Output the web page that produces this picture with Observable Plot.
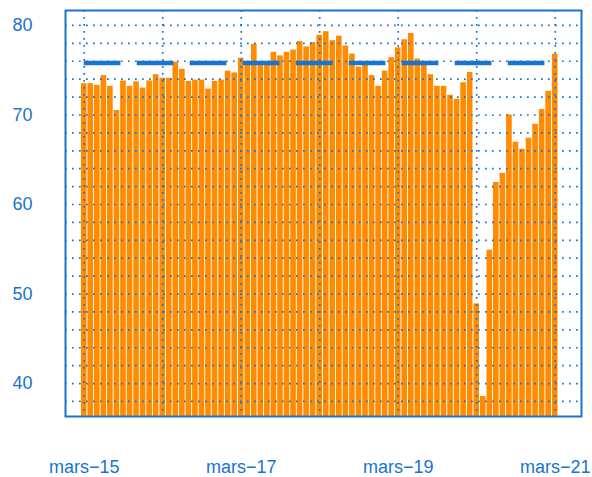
<!DOCTYPE html>
<html>
<head>
<meta charset="utf-8">
<script src="https://cdn.jsdelivr.net/npm/d3@7"></script>
<script src="https://cdn.jsdelivr.net/npm/@observablehq/plot@0.6"></script>
<style>
  html, body { margin: 0; padding: 0; background: #fff; }
  #chart svg { display: block; }
</style>
</head>
<body>
<div id="chart"></div>
<script>
// Monthly values, March 2015 .. March 2021 (index 0 = mars-15)
const values = [
  73.5, 73.5, 73.3, 74.4, 73.2, 70.5, 73.8, 73.2, 73.7, 73.0,   // Mar15..Dec15
  73.8, 74.5, 74.1, 74.1, 75.9, 75.1, 73.75, 73.9, 73.9, 72.9, 73.75, 73.9, // Jan16..Dec16
  74.9, 74.7, 76.35, 75.7, 77.9, 75.7, 75.6, 77.0, 76.6, 77.0, 77.25, 78.2, // Jan17..Dec17
  77.6, 78.1, 78.9, 79.3, 78.3, 78.8, 77.7, 76.8, 75.35, 75.7, 74.4, 73.2, // Jan18..Dec18
  74.9, 76.4, 77.5, 78.4, 79.1, 76.25, 75.6, 74.5, 73.2, 73.2, 72.2, 71.75, // Jan19..Dec19
  73.6, 74.75, 48.9, 38.56, 54.9, 62.46, 63.47, 70.0, 66.96, 66.18, 67.4, 68.96, // Jan20..Dec20
  70.6, 72.64, 76.77 // Jan21..Mar21
];
const refLevel = 75.8;
const yTicks = [40, 50, 60, 70, 80];
const yGrid = d3.range(38, 81, 2);
const xGrid = [0, 12, 24, 36, 48, 60, 72];
const xTickPos = [0, 24, 48, 72];
const xTickLabels = ["mars\u221215", "mars\u221217", "mars\u221219", "mars\u221221"];

const blue = "#1874CD";
const orange = "#FF8C00";
const yMin = 36.32, yMax = 81.67;
const dotted = {stroke: blue, strokeWidth: 1.7, strokeDasharray: "1.7,5.3"};

const chart = Plot.plot({
  width: 592,
  height: 477,
  marginLeft: 65,
  marginRight: 11,
  marginTop: 10,
  marginBottom: 61,
  style: {fontFamily: "'Liberation Sans', Arial, sans-serif", fontSize: "18px", color: blue, background: "#fff"},
  x: {type: "linear", domain: [-2.86, 76.02]},
  y: {domain: [yMin, yMax]},
  marks: [
    Plot.rectY(values, {
      x1: (d, i) => i - 0.43,
      x2: (d, i) => i + 0.43,
      y1: () => yMin,
      y2: d => d,
      fill: orange
    }),
    Plot.ruleY(yGrid, dotted),
    Plot.ruleX(xGrid, dotted),
    Plot.ruleY([refLevel], {
      x1: () => 0,
      x2: () => values.length - 1,
      stroke: blue,
      strokeWidth: 4.4,
      strokeDasharray: "36.7,16.3"
    }),
    Plot.frame({stroke: blue, strokeWidth: 2}),
    Plot.axisY(yTicks, {tickSize: 0, tickPadding: 33, fill: blue, fontSize: 18}),
    Plot.axisX(xTickPos, {
      tickSize: 0,
      tickPadding: 44,
      fill: blue,
      fontSize: 18,
      tickFormat: d => xTickLabels[xTickPos.indexOf(d)]
    })
  ]
});
document.getElementById("chart").append(chart);
</script>
</body>
</html>
